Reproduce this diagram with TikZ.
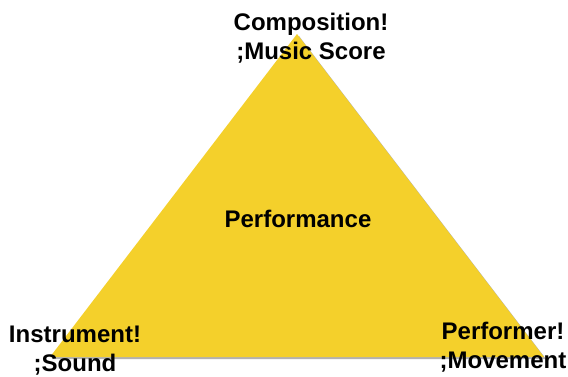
\documentclass[tikz,border=0pt]{standalone}
\usepackage{fontspec}
\setmainfont{Liberation Sans}
\definecolor{tri}{HTML}{F4D02B}
\begin{document}
\begin{tikzpicture}[x=1pt,y=-1pt,
  lbl/.style={font=\bfseries\fontsize{24}{29}\selectfont, align=center, inner sep=0pt, anchor=base}]
\useasboundingbox (0,0) rectangle (568,376);
\coordinate (A) at (297,34);
\coordinate (B) at (50,357);
\coordinate (C) at (544,357);
\fill[gray!60] ([shift={(2,2)}]A) -- ([shift={(2,2)}]B) -- ([shift={(2,2)}]C) -- cycle;
\fill[tri] (A) -- (B) -- (C) -- cycle;
\node[lbl] (comp) at (311,59) {Composition!\\;Music Score};
\node[lbl] (perf) at (298,227) {Performance};
\node[lbl] (inst) at (75,371) {Instrument!\\;Sound};
\node[lbl] (pfm) at (503,368) {Performer!\\;Movement};
\end{tikzpicture}
\end{document}
